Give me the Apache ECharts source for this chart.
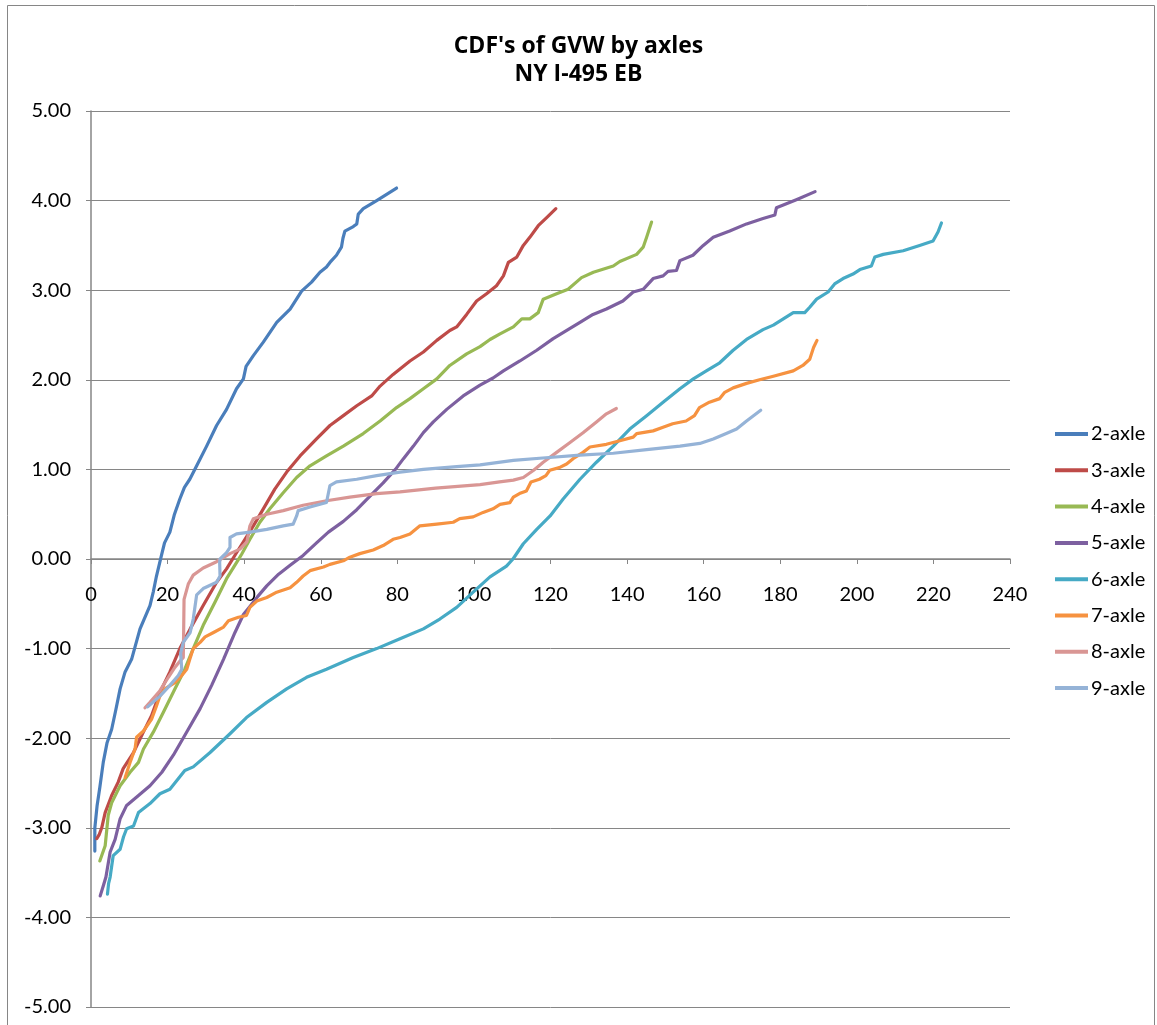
<!DOCTYPE html>
<html>
<head>
<meta charset="utf-8">
<title>CDF's of GVW by axles</title>
<script src="https://cdn.jsdelivr.net/npm/echarts@6/dist/echarts.min.js"></script>
<style>
  html, body { margin: 0; padding: 0; background: #fff; }
  #chart { width: 1157px; height: 1025px; }
</style>
</head>
<body>
<div id="chart"></div>
<script>
// Series names, in legend order
const seriesNames = ['2-axle', '3-axle', '4-axle', '5-axle', '6-axle', '7-axle', '8-axle', '9-axle'];

// Axis ticks
const xTicks = { min: 0, max: 240, step: 20 };
const yTicks = { min: -5, max: 5, step: 1 };

// [GVW, normal score] pairs per axle class
const axle2 = [[1.0,-3.26],[1.0,-3.0],[1.6,-2.75],[2.3,-2.55],[3.2,-2.27],[4.2,-2.05],[5.4,-1.90],[6.5,-1.68],[7.6,-1.45],[8.9,-1.26],[10.6,-1.12],[11.5,-0.98],[12.8,-0.78],[14.0,-0.66],[15.4,-0.52],[16.3,-0.36],[17.1,-0.19],[18.4,0.04],[19.2,0.18],[20.6,0.30],[21.8,0.50],[23.2,0.67],[24.4,0.80],[25.8,0.89],[27.6,1.04],[30.2,1.26],[32.8,1.49],[35.4,1.67],[38.0,1.90],[39.8,2.01],[40.5,2.15],[42.4,2.27],[45.0,2.42],[48.5,2.64],[52.0,2.79],[55.0,2.99],[57.6,3.09],[59.8,3.20],[61.5,3.26],[62.4,3.31],[64.1,3.39],[65.4,3.48],[65.8,3.58],[66.3,3.66],[68.5,3.71],[69.4,3.74],[69.8,3.85],[71.1,3.91],[74.6,4.00],[79.8,4.14]];

const axle3 = [[1.5,-3.12],[2.1,-3.08],[2.8,-3.0],[3.7,-2.83],[5.4,-2.64],[7.1,-2.49],[8.4,-2.34],[11.1,-2.16],[13.7,-1.93],[15.8,-1.75],[18.0,-1.49],[20.6,-1.26],[23.2,-1.0],[25.9,-0.78],[29.3,-0.52],[32.8,-0.26],[35.4,-0.11],[38.0,0.07],[39.8,0.19],[42.4,0.37],[45.0,0.56],[48.0,0.78],[51.1,0.97],[54.6,1.15],[58.9,1.34],[62.4,1.49],[65.9,1.60],[69.4,1.71],[73.3,1.82],[75.5,1.93],[78.9,2.06],[83.3,2.21],[86.8,2.31],[90.3,2.44],[93.7,2.55],[95.5,2.59],[98.1,2.73],[100.7,2.88],[103.3,2.96],[105.9,3.05],[107.7,3.16],[109.0,3.31],[111.2,3.37],[112.9,3.50],[114.6,3.59],[116.8,3.72],[119.0,3.81],[121.4,3.91]];

const axle4 = [[2.3,-3.37],[3.7,-3.20],[4.5,-2.86],[5.4,-2.72],[7.6,-2.53],[10.2,-2.38],[12.4,-2.27],[13.7,-2.12],[16.3,-1.93],[18.9,-1.71],[21.9,-1.45],[24.5,-1.23],[26.7,-1.0],[29.3,-0.74],[32.4,-0.48],[35.4,-0.22],[38.0,-0.04],[39.3,0.05],[41.5,0.22],[44.1,0.41],[46.7,0.56],[50.2,0.74],[53.7,0.91],[57.2,1.04],[61.5,1.15],[65.9,1.26],[71.1,1.40],[75.5,1.54],[79.8,1.69],[83.3,1.79],[86.8,1.90],[90.3,2.01],[93.7,2.16],[98.1,2.29],[101.6,2.37],[104.2,2.45],[106.7,2.51],[110.3,2.59],[112.5,2.68],[114.6,2.68],[116.8,2.75],[118.1,2.90],[121.6,2.96],[124.6,3.01],[128.1,3.14],[131.2,3.20],[136.4,3.27],[138.1,3.32],[142.5,3.40],[144.2,3.48],[145.1,3.59],[146.4,3.76]];

const axle5 = [[2.4,-3.76],[3.2,-3.65],[3.9,-3.55],[5.0,-3.27],[6.3,-3.13],[7.6,-2.90],[9.3,-2.75],[12.4,-2.64],[15.4,-2.53],[18.5,-2.38],[21.5,-2.19],[25.0,-1.93],[28.5,-1.67],[31.5,-1.41],[34.6,-1.12],[37.6,-0.82],[39.8,-0.62],[41.5,-0.53],[43.5,-0.42],[45.9,-0.30],[49.0,-0.17],[52.0,-0.07],[55.4,0.04],[58.9,0.18],[62.0,0.30],[65.9,0.42],[69.4,0.55],[72.8,0.70],[76.3,0.85],[79.5,1.0],[81.6,1.12],[84.2,1.26],[86.8,1.41],[89.4,1.53],[92.9,1.67],[97.2,1.82],[101.6,1.94],[105.0,2.02],[107.7,2.10],[112.0,2.21],[116.4,2.33],[120.7,2.46],[125.0,2.57],[127.7,2.64],[131.1,2.73],[134.6,2.79],[138.9,2.88],[141.6,2.98],[144.2,3.01],[146.8,3.13],[149.4,3.16],[150.7,3.21],[152.9,3.22],[153.8,3.33],[157.2,3.39],[159.9,3.50],[162.5,3.59],[166.8,3.66],[171.2,3.74],[175.5,3.80],[178.6,3.84],[179.0,3.92],[184.2,4.01],[189.1,4.10]];

const axle6 = [[4.3,-3.74],[4.6,-3.62],[5.0,-3.55],[5.8,-3.31],[7.6,-3.24],[8.5,-3.10],[9.3,-3.01],[11.1,-2.98],[12.4,-2.83],[15.4,-2.73],[18.0,-2.62],[20.6,-2.57],[24.5,-2.36],[26.7,-2.32],[31.1,-2.16],[36.3,-1.95],[40.6,-1.77],[45.9,-1.60],[51.1,-1.45],[56.3,-1.32],[61.5,-1.23],[68.5,-1.10],[74.6,-1.0],[80.7,-0.89],[86.8,-0.78],[91.1,-0.67],[95.5,-0.54],[99.8,-0.37],[104.2,-0.20],[108.5,-0.08],[110.2,0.0],[112.9,0.17],[116.4,0.33],[119.9,0.48],[123.3,0.67],[127.7,0.89],[132.0,1.08],[136.4,1.26],[140.7,1.45],[145.1,1.60],[149.4,1.75],[153.8,1.90],[157.3,2.01],[160.7,2.10],[164.2,2.19],[167.7,2.33],[171.2,2.45],[175.5,2.56],[178.2,2.61],[180.8,2.68],[183.4,2.75],[186.4,2.75],[187.7,2.81],[189.5,2.90],[192.5,2.98],[194.2,3.07],[196.4,3.13],[199.0,3.18],[200.8,3.23],[203.8,3.27],[204.7,3.37],[206.9,3.40],[212.1,3.44],[216.4,3.50],[219.9,3.55],[221.2,3.65],[222.1,3.75]];

const axle7 = [[8.9,-2.44],[10.2,-2.27],[11.5,-2.12],[11.9,-1.99],[13.7,-1.92],[15.8,-1.79],[17.1,-1.64],[18.0,-1.53],[19.3,-1.45],[21.9,-1.38],[23.7,-1.30],[25.0,-1.23],[25.8,-1.12],[26.7,-1.0],[28.5,-0.93],[29.8,-0.87],[32.0,-0.82],[34.6,-0.76],[35.9,-0.69],[38.5,-0.65],[40.6,-0.63],[41.5,-0.54],[43.3,-0.47],[45.9,-0.43],[48.5,-0.37],[52.0,-0.32],[53.7,-0.26],[55.4,-0.19],[57.2,-0.13],[60.7,-0.09],[62.4,-0.06],[65.9,-0.02],[67.6,0.02],[70.2,0.06],[73.7,0.10],[76.3,0.15],[78.9,0.22],[80.7,0.24],[83.3,0.28],[85.9,0.37],[90.3,0.39],[94.6,0.41],[96.3,0.45],[99.8,0.47],[102.4,0.52],[105.0,0.56],[106.8,0.61],[109.4,0.63],[110.3,0.69],[111.9,0.73],[113.7,0.76],[114.9,0.86],[117.1,0.89],[118.8,0.93],[119.8,0.99],[122.3,1.02],[124.2,1.06],[125.9,1.12],[128.5,1.19],[130.3,1.25],[134.6,1.28],[138.1,1.32],[141.6,1.36],[142.5,1.40],[146.8,1.43],[149.4,1.47],[151.9,1.51],[155.4,1.54],[157.6,1.60],[158.9,1.69],[161.5,1.75],[164.2,1.79],[165.5,1.86],[167.7,1.91],[171.2,1.96],[174.6,2.00],[178.2,2.04],[183.4,2.10],[185.9,2.16],[187.7,2.23],[188.7,2.36],[189.6,2.44]];

const axle8 = [[14.1,-1.66],[15.4,-1.60],[18.0,-1.47],[20.2,-1.32],[21.9,-1.21],[23.2,-1.14],[24.1,-1.10],[24.2,-0.80],[24.3,-0.45],[25.4,-0.28],[26.7,-0.18],[29.3,-0.10],[32.8,-0.03],[36.3,0.06],[38.9,0.11],[40.7,0.19],[41.5,0.37],[42.4,0.45],[45.9,0.50],[50.2,0.54],[55.4,0.60],[61.5,0.65],[67.6,0.69],[74.6,0.73],[80.7,0.75],[90.0,0.79],[101.6,0.83],[106.7,0.86],[110.3,0.88],[112.9,0.91],[115.6,0.99],[118.1,1.08],[121.6,1.19],[125.1,1.30],[128.5,1.41],[132.0,1.53],[134.6,1.62],[137.2,1.68]];

const axle9 = [[14.8,-1.65],[18.0,-1.53],[20.6,-1.41],[22.8,-1.30],[23.7,-1.23],[23.4,-1.05],[24.1,-0.93],[25.9,-0.82],[26.7,-0.67],[27.2,-0.52],[27.6,-0.40],[29.3,-0.33],[32.8,-0.26],[33.7,-0.19],[33.6,-0.04],[33.7,0.0],[35.4,0.07],[36.3,0.13],[36.3,0.24],[38.0,0.28],[41.5,0.30],[45.9,0.33],[50.2,0.37],[52.8,0.39],[53.7,0.48],[54.1,0.54],[57.2,0.58],[61.5,0.63],[62.4,0.82],[64.1,0.86],[69.4,0.89],[74.6,0.93],[80.7,0.97],[86.8,1.00],[95.5,1.03],[101.6,1.05],[110.3,1.10],[118.8,1.13],[127.7,1.16],[136.4,1.18],[145.1,1.22],[153.8,1.26],[159.0,1.29],[162.5,1.34],[165.9,1.40],[168.6,1.45],[171.2,1.54],[174.9,1.66]];

const seriesData = [axle2, axle3, axle4, axle5, axle6, axle7, axle8, axle9];
const seriesColors = ['#4A7EBB', '#BE4B48', '#98B954', '#7D60A0', '#46AAC5', '#F69240', '#D99694', '#95B3D7'];

const FONT = 'Lato, "Open Sans", "Noto Sans", sans-serif';
const TITLE_FONT = '"Open Sans", "Noto Sans", sans-serif';
const AXIS_GREY = '#868686';

// Plot box
const GRID = { left: 91, right: 147, top: 111, bottom: 18 };
const PLOT_HEIGHT = 1025 - GRID.top - GRID.bottom;

const chart = echarts.init(document.getElementById('chart'), null, { renderer: 'canvas' });

chart.setOption({
  animation: false,
  backgroundColor: '#ffffff',
  graphic: [{
    type: 'rect',
    silent: true,
    shape: { x: 7.5, y: 5.5, width: 1147, height: 1040 },
    style: { fill: 'none', stroke: AXIS_GREY, lineWidth: 1 }
  }],
  title: {
    text: "CDF's of GVW by axles\nNY I-495 EB",
    left: 'center',
    top: 27,
    textStyle: {
      fontFamily: TITLE_FONT,
      fontWeight: 'bold',
      fontSize: 23,
      lineHeight: 28,
      color: '#000'
    }
  },
  legend: {
    orient: 'vertical',
    left: 1050,
    top: 419,
    icon: 'rect',
    itemWidth: 33,
    itemHeight: 4,
    itemGap: 16.3,
    textStyle: { fontFamily: FONT, fontSize: 20, lineHeight: 20, color: '#000', padding: [0, 0, 0, -2] },
    data: seriesNames
  },
  grid: { left: GRID.left, right: GRID.right, top: GRID.top, bottom: GRID.bottom, containLabel: false },
  xAxis: {
    type: 'value',
    min: xTicks.min,
    max: xTicks.max,
    interval: xTicks.step,
    // the horizontal axis sits on y = 0, half way up the plot box
    offset: -PLOT_HEIGHT / 2,
    axisLine: { show: true, onZero: false, lineStyle: { color: AXIS_GREY, width: 1.5 } },
    axisTick: { show: true, inside: false, length: 5, lineStyle: { color: AXIS_GREY } },
    axisLabel: { fontFamily: FONT, fontSize: 20, color: '#000', margin: 26, showMinLabel: true, showMaxLabel: true },
    splitLine: { show: false }
  },
  yAxis: {
    type: 'value',
    min: yTicks.min,
    max: yTicks.max,
    interval: yTicks.step,
    axisLine: { show: true, onZero: false, lineStyle: { color: AXIS_GREY, width: 1.5 } },
    axisTick: { show: true, inside: false, length: 5, lineStyle: { color: AXIS_GREY } },
    axisLabel: {
      fontFamily: FONT, fontSize: 20, color: '#000', margin: 20,
      formatter: v => v.toFixed(2)
    },
    splitLine: { show: true, lineStyle: { color: AXIS_GREY, width: 1 } }
  },
  series: seriesNames.map((name, i) => ({
    name,
    type: 'line',
    data: seriesData[i],
    showSymbol: false,
    symbol: 'none',
    smooth: false,
    clip: true,
    color: seriesColors[i],
    lineStyle: { color: seriesColors[i], width: 3.2, join: 'round', cap: 'round' }
  }))
});
</script>
</body>
</html>
